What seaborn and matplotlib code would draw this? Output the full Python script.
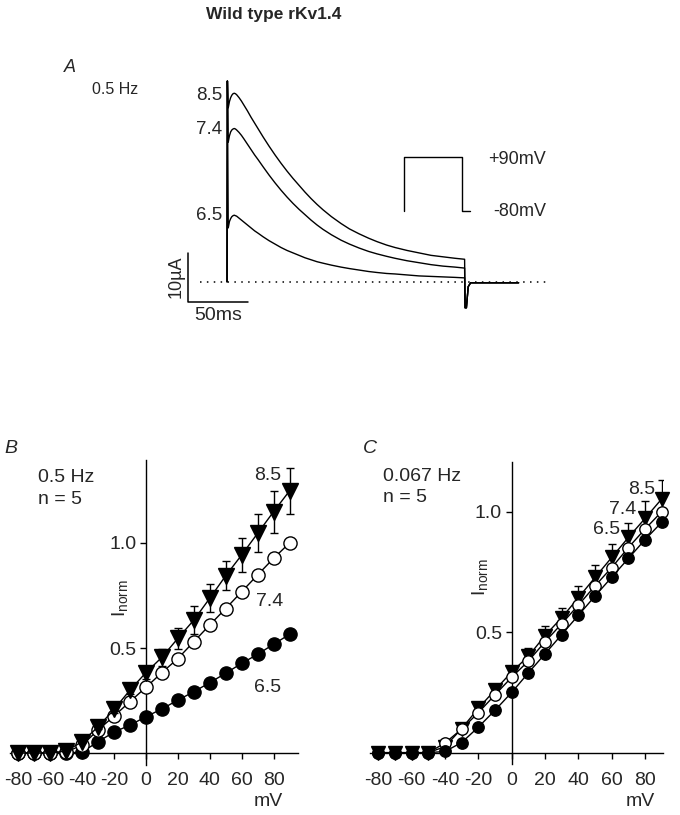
import matplotlib
matplotlib.use('Agg')
import matplotlib.pyplot as plt
import seaborn as sns
import pandas as pd

sns.set_theme(style='ticks')
plt.rcParams['font.family'] = ['Liberation Sans', 'DejaVu Sans']
plt.rcParams['mathtext.default'] = 'regular'
plt.rcParams['axes.unicode_minus'] = False

W, H = 680, 815

# ---------------- panel A: current traces (ms, uA) ----------------
trace_t = [0, 0.3, 1, 2, 3, 4, 5, 6, 7, 8, 10, 12, 14, 17, 20, 23, 26, 30, 35, 40,
           45, 50, 55, 60, 65, 70, 75, 80, 87, 95, 102, 110, 118, 125, 133, 140,
           150, 160, 170, 180, 190, 198]
trace_85 = [0, 41, 35.5, 36.8, 37.6, 38.1, 38.4, 38.5, 38.4, 38.2,
            37.6, 36.9, 36.1, 34.9, 33.6, 32.4, 31.2, 29.6, 27.7, 25.9,
            24.2, 22.6, 21.1, 19.7, 18.3, 17.0, 15.8, 14.7, 13.3, 11.9,
            10.8, 9.8, 8.9, 8.2, 7.5, 7.0, 6.4, 5.9, 5.4, 5.1, 4.8, 4.6]
trace_74 = [0, 41, 28.5, 29.8, 30.6, 31.0, 31.2, 31.3, 31.2, 31.0,
            30.5, 29.9, 29.2, 28.1, 27.0, 25.9, 24.9, 23.5, 21.8, 20.2,
            18.7, 17.3, 16.0, 14.8, 13.7, 12.6, 11.6, 10.7, 9.6, 8.5,
            7.7, 6.9, 6.2, 5.7, 5.2, 4.8, 4.3, 3.9, 3.5, 3.2, 3.0, 2.8]
trace_65 = [0, 41, 11.0, 12.3, 12.9, 13.3, 13.5, 13.6, 13.5, 13.4,
            13.0, 12.6, 12.2, 11.6, 11.0, 10.4, 9.9, 9.2, 8.4, 7.7,
            7.0, 6.4, 5.9, 5.4, 4.9, 4.5, 4.1, 3.8, 3.4, 3.0,
            2.7, 2.4, 2.1, 1.9, 1.7, 1.6, 1.4, 1.2, 1.1, 1.0, 0.9, 0.8]
# tail after repolarisation
tail_t = [198.4, 199.5, 201, 203, 243]
tail_i = [-5.3, -5.3, -1.0, -0.2, -0.2]

# voltage protocol (ms, mV)
prot_t = [0, 0, 200, 200, 228]
prot_v = [-80, 90, 90, -80, -80]

# ---------------- panels B and C: I-V (mV, I_norm) ----------------
mv = [-80, -70, -60, -50, -40, -30, -20, -10, 0, 10, 20, 30, 40, 50, 60, 70, 80, 90]

b_65 = [0, 0, 0, 0, 0.005, 0.054, 0.10, 0.133, 0.173, 0.21, 0.252, 0.292,
        0.335, 0.38, 0.427, 0.47, 0.518, 0.565]
b_74 = [0, 0, 0, 0.005, 0.038, 0.11, 0.176, 0.245, 0.313, 0.383, 0.45, 0.53,
        0.61, 0.688, 0.768, 0.848, 0.927, 1.0]
b_85 = [0, 0, 0, 0.01, 0.054, 0.125, 0.208, 0.30, 0.383, 0.456, 0.546, 0.633,
        0.737, 0.844, 0.943, 1.046, 1.149, 1.248]
b_85_err = [0, 0, 0, 0, 0.005, 0.01, 0.015, 0.02, 0.03, 0.04, 0.05, 0.065,
            0.066, 0.07, 0.08, 0.09, 0.10, 0.11]

c_65 = [0, 0, 0, 0, 0.005, 0.042, 0.106, 0.176, 0.25, 0.331, 0.41, 0.49,
        0.57, 0.65, 0.728, 0.806, 0.884, 0.956]
c_74 = [0, 0, 0, 0, 0.04, 0.098, 0.166, 0.24, 0.313, 0.38, 0.46, 0.535,
        0.612, 0.692, 0.768, 0.851, 0.928, 1.0]
c_85 = [0, 0, 0, 0, 0.025, 0.10, 0.184, 0.26, 0.335, 0.40, 0.486, 0.56,
        0.643, 0.727, 0.81, 0.893, 0.972, 1.053]
c_85_err = [0, 0, 0, 0, 0.005, 0.02, 0.02, 0.025, 0.025, 0.035, 0.04, 0.042,
            0.05, 0.052, 0.055, 0.06, 0.074, 0.08]


def px_axes(fig, left, top, right, bottom):
    return fig.add_axes([left / W, 1 - bottom / H, (right - left) / W, (bottom - top) / H])


def ftext(fig, x, y, s, **kw):
    kw.setdefault('va', 'center')
    fig.text(x / W, 1 - y / H, s, **kw)


fig = plt.figure(figsize=(W / 100, H / 100), dpi=100)

ftext(fig, 274, 15, 'Wild type rKv1.4', ha='center', fontsize=12.5, fontweight='bold')

# ---------------- panel A ----------------
axA = px_axes(fig, 180, 80, 560, 320)
for tr in (trace_85, trace_74, trace_65):
    df = pd.DataFrame({'t': trace_t + tail_t, 'I': tr + tail_i})
    axA.plot(df['t'], df['I'], color='black', lw=1.0)
axA.plot([-22.5, 268], [0, 0], color='black', lw=1.1, ls=(0, (1, 3.5)))
# scale bars: 50 ms, 10 uA
axA.plot([-32.5, -32.5, 17.5], [5.9, -4.1, -4.1], color='black', lw=1.1)
axA.set_xlim(-39.2, 277.5)
axA.set_ylim(-7.8, 41.2)
axA.axis('off')

ftext(fig, 64, 68, 'A', fontsize=13, style='italic')
ftext(fig, 92, 90, '0.5 Hz', fontsize=11.5)
for lab, yy in (('8.5', 95), ('7.4', 130), ('6.5', 215)):
    ftext(fig, 222, yy, lab, ha='right', fontsize=13.5)
ftext(fig, 176, 277, '10µA', ha='center', rotation=90, fontsize=13)
ftext(fig, 218, 315, '50ms', ha='center', fontsize=14)

axP = px_axes(fig, 400, 150, 475, 215)
axP.plot(prot_t, prot_v, color='black', lw=1.0)
axP.set_xlim(-13.8, 244.8)
axP.set_ylim(-94.2, 111.2)
axP.axis('off')
ftext(fig, 488, 160, '+90mV', fontsize=13)
ftext(fig, 493, 212, '-80mV', fontsize=13)


# ---------------- panels B and C ----------------
def iv_panel(ax, y65, y74, y85, err85, ms, ms_tri, xmax, ymin, ymax, order):
    df = pd.DataFrame({'mV': mv * 3,
                       'I': y65 + y74 + y85,
                       'pH': ['6.5'] * len(mv) + ['7.4'] * len(mv) + ['8.5'] * len(mv)})
    style = {'6.5': dict(marker='o', markerfacecolor='black', markersize=ms),
             '7.4': dict(marker='o', markerfacecolor='white', markersize=ms),
             '8.5': dict(marker='v', markerfacecolor='black', markersize=ms_tri)}
    for z, key in enumerate(order):
        sub = df[df['pH'] == key]
        if key == '8.5':
            ax.errorbar(sub['mV'], sub['I'], yerr=err85, fmt='none', ecolor='black',
                        elinewidth=1, capsize=3, capthick=1, zorder=3 + z)
        sns.lineplot(data=sub, x='mV', y='I', ax=ax, color='black', lw=1.0,
                     markeredgecolor='black', markeredgewidth=1.0,
                     zorder=3 + z, clip_on=False, **style[key])
    ax.spines[['top', 'right']].set_visible(False)
    ax.spines['left'].set_position(('data', 0))
    ax.spines['bottom'].set_position(('data', 0))
    for s in ('left', 'bottom'):
        ax.spines[s].set_linewidth(1.0)
        ax.spines[s].set_color('black')
    ax.set_xlim(-85, xmax)
    ax.set_ylim(ymin, ymax)
    ax.set_xticks(list(range(-80, 81, 20)))
    ax.set_yticks([0.5, 1.0])
    ax.set_yticklabels(['0.5', '1.0'])
    ax.tick_params(axis='x', direction='out', length=4, width=1, pad=10,
                   labelsize=14, color='black')
    ax.tick_params(axis='y', direction='out', length=4, width=1, pad=3,
                   labelsize=14, color='black')
    ax.set_xlabel('')
    ax.set_ylabel('')
    ax.set_facecolor('none')


axB = px_axes(fig, 10.4, 460, 297.5, 764.6)
iv_panel(axB, b_65, b_74, b_85, b_85_err, 9.5, 11, 95, -0.055, 1.395, ['6.5', '7.4', '8.5'])
ftext(fig, 4, 448, 'B', fontsize=14, style='italic')
ftext(fig, 38, 478, '0.5 Hz', fontsize=14)
ftext(fig, 38, 500, 'n = 5', fontsize=14)
ftext(fig, 268, 475, '8.5', ha='center', fontsize=14)
ftext(fig, 270, 602, '7.4', ha='center', fontsize=14)
ftext(fig, 268, 688, '6.5', ha='center', fontsize=14)
ftext(fig, 120, 598, r'I$_{norm}$', ha='center', rotation=90, fontsize=14)
ftext(fig, 268, 802, 'mV', ha='center', fontsize=14)

axC = px_axes(fig, 370, 462, 663.4, 763.5)
iv_panel(axC, c_65, c_74, c_85, c_85_err, 8.2, 9.5, 91, -0.045, 1.206, ['8.5', '7.4', '6.5'])
ftext(fig, 363, 448, 'C', fontsize=14, style='italic')
ftext(fig, 383, 477, '0.067 Hz', fontsize=14)
ftext(fig, 383, 498, 'n = 5', fontsize=14)
ftext(fig, 642, 489, '8.5', ha='center', fontsize=14)
ftext(fig, 623, 510, '7.4', ha='center', fontsize=14)
ftext(fig, 607, 530, '6.5', ha='center', fontsize=14)
ftext(fig, 480, 577, r'I$_{norm}$', ha='center', rotation=90, fontsize=14)
ftext(fig, 640, 802, 'mV', ha='center', fontsize=14)

fig.savefig('out.png', dpi=100)
